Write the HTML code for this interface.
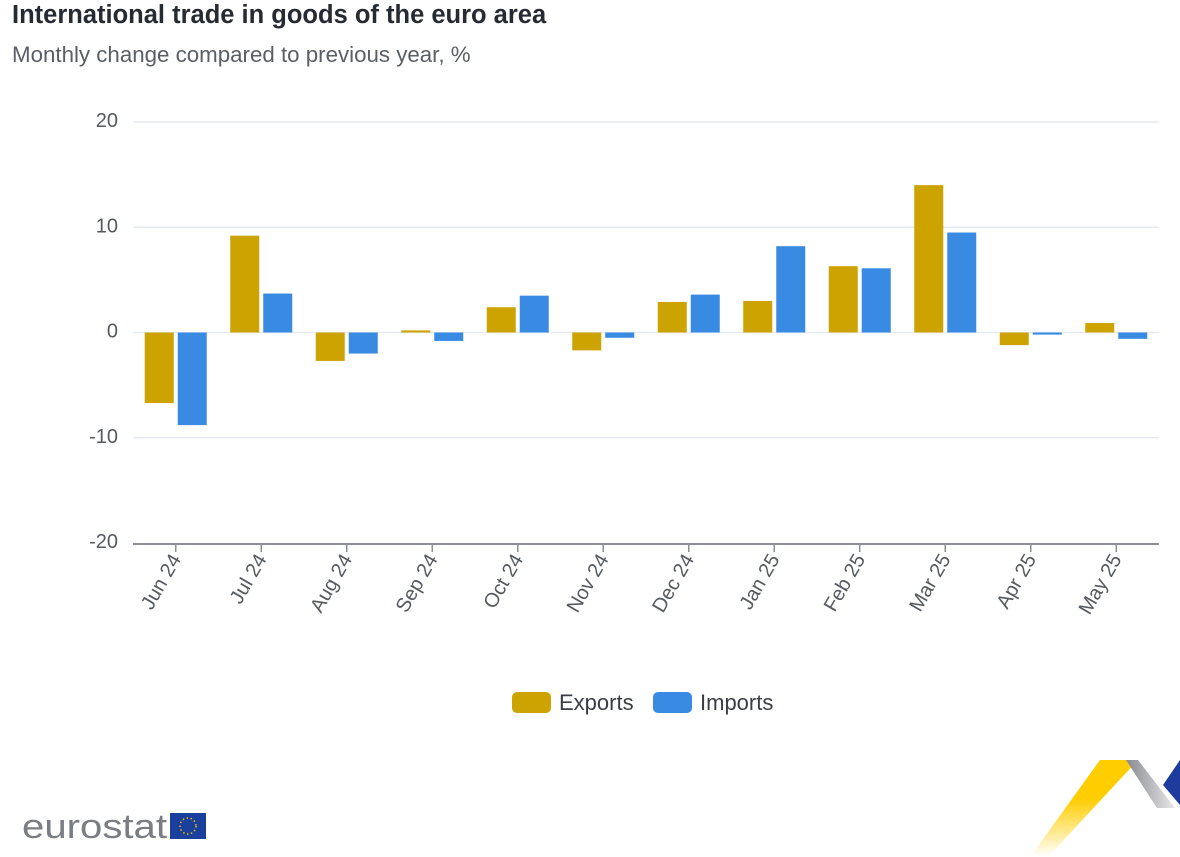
<!DOCTYPE html>
<html><head><meta charset="utf-8">
<style>
body{margin:0;background:#fff;width:1180px;height:857px;overflow:hidden;font-family:"Liberation Sans",sans-serif;}
.t{position:absolute;left:12px;top:1px;font-size:25.5px;font-weight:bold;color:#262b33;white-space:nowrap;}
.s{position:absolute;left:12px;top:42px;font-size:22.3px;color:#5a5f66;white-space:nowrap;}
svg{position:absolute;left:0;top:0;}
</style></head><body>
<div class="t">International trade in goods of the euro area</div>
<div class="s">Monthly change compared to previous year, %</div>
<svg id="c" width="1180" height="857">
<g>
<text x="22" y="838" font-size="34" fill="#7a7d82" font-family="Liberation Sans, sans-serif" textLength="145" lengthAdjust="spacingAndGlyphs">eurostat</text>
<rect x="170" y="813" width="36" height="26" fill="#1b3f9c"/>
<circle cx="188" cy="826" r="8" fill="none" stroke="#e8c300" stroke-width="1.5" stroke-dasharray="1.5 2.5"/>
</g>
<g>
<defs><linearGradient id="yg" x1="0" y1="1" x2="0" y2="0"><stop offset="0" stop-color="#fff"/><stop offset="0.6" stop-color="#ffcd00"/></linearGradient>
<linearGradient id="gg" x1="0" y1="0" x2="1" y2="0"><stop offset="0" stop-color="#888a90"/><stop offset="1" stop-color="#e8e8ea"/></linearGradient></defs>
<polygon points="1030,857 1048,857 1138,760 1100,760" fill="url(#yg)"/>
<polygon points="1126,760 1138,760 1175,808 1157,808" fill="url(#gg)"/>
<polygon points="1180,760 1180,805 1163,785" fill="#1d3c9e"/>
</g>
</svg>
<script>
const categories=["Jun 24","Jul 24","Aug 24","Sep 24","Oct 24","Nov 24","Dec 24","Jan 25","Feb 25","Mar 25","Apr 25","May 25"];
const exportsVals=[-6.7,9.2,-2.7,0.2,2.4,-1.7,2.9,3.0,6.3,14.0,-1.2,0.9];
const importsVals=[-8.8,3.7,-2.0,-0.8,3.5,-0.5,3.6,8.2,6.1,9.5,-0.2,-0.6];
const yTicks=[20,10,0,-10,-20];
const svg=document.getElementById('c');
const NS='http://www.w3.org/2000/svg';
const X0=133,X1=1159,Y20=122,Y0=332.5;
const step=(X1-X0)/categories.length;
const y=v=>Y0-(v)*(Y0-Y20)/20;
const xc=i=>X0+step*(i+0.5);
function mk(t,a){const e=document.createElementNS(NS,t);for(const k in a)e.setAttribute(k,a[k]);svg.appendChild(e);return e;}
yTicks.forEach(v=>{
  if(v!==-20){const l=mk('line',{x1:X0,x2:X1,y1:y(v),y2:y(v),stroke:'#e6eaf2','stroke-width':1.5});
  
  }
  const t=mk('text',{x:118,y:y(v)+5,'text-anchor':'end','font-size':20,fill:'#555a60'});
  t.textContent=v;
  
  
});
const ax=mk('line',{x1:X0,x2:X1,y1:y(-20)+1,y2:y(-20)+1,stroke:'#8c8f94','stroke-width':2});


const bw=29,gap=4;
categories.forEach((c,i)=>{
  const cx=xc(i);
  const tk=mk('line',{x1:cx,x2:cx,y1:y(-20)+1,y2:y(-20)+9,stroke:'#8c8f94','stroke-width':1.5});
  
  
  const tx=mk('text',{x:cx+6,y:y(-20)+16,'text-anchor':'end','font-size':20,fill:'#555a60',transform:`rotate(-60 ${cx+6} ${y(-20)+16})`});
  tx.textContent=c;
  
  
  [[exportsVals[i],'#cca300',cx-gap/2-bw,'bar-exports'],[importsVals[i],'#388ae2',cx+gap/2,'bar-imports']].forEach(([v,col,bx,nm])=>{
    const top=Math.min(y(v),Y0),h=Math.max(Math.abs(y(v)-Y0),1);
    const r=mk('rect',{x:bx,y:top,width:bw,height:h,fill:col});
    
    
  });
});
const lg=[['Exports','#cca300',512],['Imports','#388ae2',653]];
lg.forEach(([n,col,x])=>{
  const r=mk('rect',{x:x,y:692,width:39,height:21,rx:5,fill:col});
  
  
  const t=mk('text',{x:x+47,y:710,'font-size':22,fill:'#3a3e44'});
  t.textContent=n;
  
  
});
</script>
</body></html>
